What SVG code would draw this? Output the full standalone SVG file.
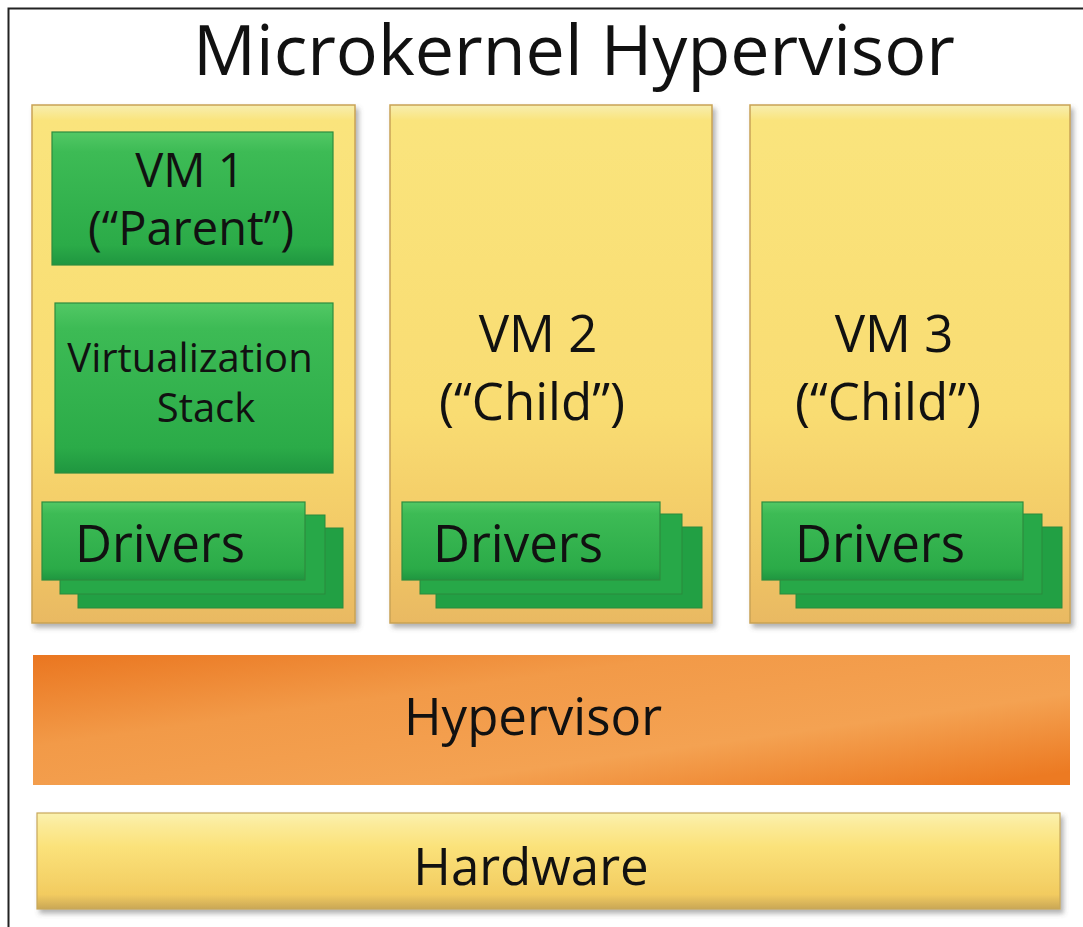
<svg xmlns="http://www.w3.org/2000/svg" width="1083" height="927" viewBox="0 0 1083 927">
<defs>
<style>
text{font-family:"Open Sans","Noto Sans","DejaVu Sans",sans-serif;fill:#111;text-anchor:middle}
.col{fill:url(#gCol);stroke:#c9a355;stroke-width:1.5;filter:url(#sh)}
.grn{fill:url(#gGrn);stroke:#2e8c3e;stroke-width:1.2}
.grnB{fill:#22a044;stroke:#2a8a3c;stroke-width:1}
.grnM{fill:#27a848;stroke:#2a8a3c;stroke-width:1}
.t47{font-size:47px}
.t51{font-size:51px}
</style>
<linearGradient id="gCol" x1="0" y1="0" x2="0" y2="1">
<stop offset="0" stop-color="#f7eeb0"/>
<stop offset="0.03" stop-color="#fae47c"/>
<stop offset="0.6" stop-color="#f9dc72"/>
<stop offset="0.8" stop-color="#f3cc68"/>
<stop offset="1" stop-color="#e9b962"/>
</linearGradient>
<linearGradient id="gGrn" x1="0" y1="0" x2="0" y2="1">
<stop offset="0" stop-color="#52c865"/>
<stop offset="0.15" stop-color="#3dbb55"/>
<stop offset="0.85" stop-color="#2bab48"/>
<stop offset="1" stop-color="#1f9640"/>
</linearGradient>
<linearGradient id="gHyp" x1="0" y1="0" x2="1" y2="0.9">
<stop offset="0" stop-color="#ea7620"/>
<stop offset="0.35" stop-color="#f29a48"/>
<stop offset="0.7" stop-color="#f4a252"/>
<stop offset="1" stop-color="#ec7a22"/>
</linearGradient>
<linearGradient id="gHw" x1="0" y1="0" x2="0" y2="1">
<stop offset="0" stop-color="#fbf2b0"/>
<stop offset="0.12" stop-color="#fbeb9a"/>
<stop offset="0.35" stop-color="#fbe27a"/>
<stop offset="0.85" stop-color="#f2cb60"/>
<stop offset="1" stop-color="#c9a756"/>
</linearGradient>
<filter id="sh" x="-5%" y="-5%" width="115%" height="115%">
<feDropShadow dx="3" dy="4" stdDeviation="2.5" flood-color="#555" flood-opacity="0.45"/>
</filter>
</defs>
<rect x="0" y="0" width="1083" height="927" fill="#ffffff"/>
<rect x="8.5" y="8.5" width="1200" height="1000" fill="none" stroke="#222" stroke-width="2"/>

<g id="title"><text x="574" y="75" style="font-size:70px">Microkernel Hypervisor</text></g>

<g id="vm1">
<rect class="col" x="32" y="105" width="323" height="518"/>
<g id="vm1-parent">
<rect class="grn" x="52" y="132" width="281" height="133"/>
<text class="t47" x="190" y="187">VM 1</text>
<text class="t47" x="191" y="245">(“Parent”)</text>
</g>
<g id="vm1-stack">
<rect class="grn" x="55" y="303" width="278" height="170"/>
<text x="190" y="372" style="font-size:40px">Virtualization</text>
<text x="206" y="422" style="font-size:40px">Stack</text>
</g>
<g id="vm1-drivers">
<rect class="grnB" x="78" y="528" width="265" height="80"/>
<rect class="grnM" x="60" y="515" width="265" height="79"/>
<rect class="grn" x="42" y="502" width="263" height="78"/>
<text class="t51" x="160" y="562">Drivers</text>
</g>
</g>

<g id="vm2">
<rect class="col" x="390" y="105" width="322" height="518"/>
<text class="t51" x="538" y="352">VM 2</text>
<text class="t51" x="532" y="420">(“Child”)</text>
<g id="vm2-drivers">
<rect class="grnB" x="436" y="527" width="266" height="81"/>
<rect class="grnM" x="420" y="514" width="262" height="80"/>
<rect class="grn" x="402" y="502" width="258" height="78"/>
<text class="t51" x="518" y="562">Drivers</text>
</g>
</g>

<g id="vm3">
<rect class="col" x="750" y="105" width="320" height="518"/>
<text class="t51" x="894" y="352">VM 3</text>
<text class="t51" x="888" y="420">(“Child”)</text>
<g id="vm3-drivers">
<rect class="grnB" x="796" y="527" width="266" height="81"/>
<rect class="grnM" x="780" y="514" width="262" height="80"/>
<rect class="grn" x="762" y="502" width="261" height="78"/>
<text class="t51" x="880" y="562">Drivers</text>
</g>
</g>

<g id="hypervisor">
<rect x="33" y="655" width="1037" height="130" fill="url(#gHyp)"/>
<text class="t51" x="533" y="735">Hypervisor</text>
</g>

<g id="hardware">
<rect x="37" y="813" width="1023" height="96" fill="url(#gHw)" stroke="#c9a85a" stroke-width="1.2" filter="url(#sh)"/>
<text class="t51" x="531" y="885">Hardware</text>
</g>

<g id="connectors"/>
</svg>
